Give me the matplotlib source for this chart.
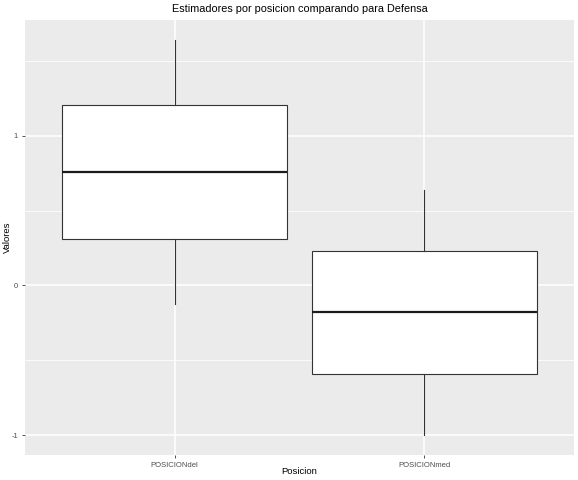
import matplotlib
matplotlib.use("Agg")
import matplotlib.pyplot as plt
from matplotlib.ticker import MultipleLocator

plt.rcParams["font.family"] = ["Liberation Sans", "DejaVu Sans"]

# box statistics
categories = ["POSICIONdel", "POSICIONmed"]
whisker_low = [-0.126, -1.0]
q1 = [0.312, -0.591]
median = [0.757, -0.179]
q3 = [1.203, 0.233]
whisker_high = [1.641, 0.638]

stats = []
for i, name in enumerate(categories):
    stats.append({"label": name, "whislo": whisker_low[i], "q1": q1[i],
                  "med": median[i], "q3": q3[i], "whishi": whisker_high[i],
                  "fliers": []})

fig = plt.figure(figsize=(5.78, 4.8), dpi=100)
ax = fig.add_axes([25 / 578, 1 - 455 / 480, 549 / 578, 435 / 480])
ax.set_facecolor("#EBEBEB")

line_col = "#333333"
ax.bxp(stats, positions=[1, 2], widths=0.9, patch_artist=True, showcaps=False,
       boxprops=dict(facecolor="white", edgecolor=line_col, linewidth=0.8),
       whiskerprops=dict(color=line_col, linewidth=0.8),
       medianprops=dict(color="#1a1a1a", linewidth=1.6), zorder=3)

# ggplot-like scales
lo, hi = min(whisker_low), max(whisker_high)
pad = (hi - lo) * 0.05
ax.set_ylim(lo - pad, hi + pad)
ax.set_xlim(0.4, 2.6)
ax.yaxis.set_major_locator(MultipleLocator(1))
ax.yaxis.set_minor_locator(MultipleLocator(0.5))
ax.set_xticks([1, 2])
ax.set_xticklabels(categories)
ax.set_yticks([-1, 0, 1])
ax.set_yticklabels(["-1", "0", "1"])

ax.grid(which="major", color="white", linewidth=1.1, zorder=0)
ax.grid(which="minor", axis="y", color="white", linewidth=0.55, zorder=0)
ax.set_axisbelow(True)
for s in ax.spines.values():
    s.set_visible(False)
ax.tick_params(which="major", length=2.5, width=0.6, color="#333333",
               labelsize=5.5, labelcolor="#4D4D4D", pad=2.5)
ax.tick_params(which="minor", length=0)

ax.set_xlabel("Posicion", fontsize=6.8)
ax.set_ylabel("Valores", fontsize=6.8)
ax.xaxis.set_label_coords(0.5, -17 / 435, transform=ax.transAxes)
ax.yaxis.set_label_coords(-18 / 549, 0.5, transform=ax.transAxes)
ax.xaxis.label.set_va("center")
ax.yaxis.label.set_va("center")
ax.set_title("Estimadores por posicion comparando para Defensa", fontsize=7.8, pad=6)

fig.savefig("out.png", dpi=100)
